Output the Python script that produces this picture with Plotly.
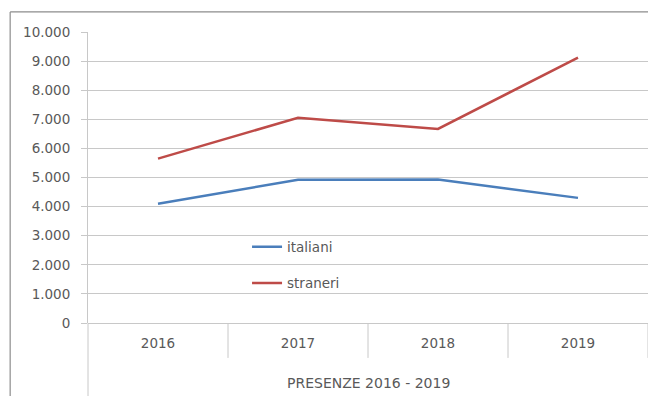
import plotly.graph_objects as go

# Presenze per anno, italiani e stranieri
anni = ["2016", "2017", "2018", "2019"]
italiani = [4100, 4920, 4930, 4300]
stranieri = [5650, 7050, 6670, 9120]
y_ticks = [0, 1000, 2000, 3000, 4000, 5000, 6000, 7000, 8000, 9000, 10000]
y_labels = ["0", "1.000", "2.000", "3.000", "4.000", "5.000",
            "6.000", "7.000", "8.000", "9.000", "10.000"]
titolo_asse = "PRESENZE 2016 - 2019"

FONT = "DejaVu Sans"
TXT = "#595959"
GRID = "#c8c8c8"

x_idx = list(range(len(anni)))

fig = go.Figure()
fig.add_trace(go.Scatter(
    x=x_idx, y=italiani, mode="lines", name="italiani", showlegend=True,
    line=dict(color="#4a7ebb", width=2.5), legend="legend",
))
fig.add_trace(go.Scatter(
    x=x_idx, y=stranieri, mode="lines", name="straneri", showlegend=True,
    line=dict(color="#be4b48", width=2.5), legend="legend2",
))

shapes = []
# separatori tra le categorie dell'asse x
for i in range(len(anni)):
    shapes.append(dict(type="line", xref="x", yref="paper",
                       x0=i + 0.5, x1=i + 0.5, y0=0, y1=-0.12,
                       line=dict(color=GRID, width=1)))
# prolungamento dell'asse y sotto le etichette
shapes.append(dict(type="line", xref="paper", yref="paper",
                   x0=0, x1=0, y0=0, y1=-0.26,
                   line=dict(color=GRID, width=1)))
# cornice del grafico (lati superiore e sinistro)
shapes.append(dict(type="line", xref="paper", yref="paper",
                   x0=-0.139, x1=1.0, y0=1.069, y1=1.069,
                   line=dict(color="#8c8c8c", width=1.2)))
shapes.append(dict(type="line", xref="paper", yref="paper",
                   x0=-0.139, x1=-0.139, y0=1.069, y1=-0.26,
                   line=dict(color="#8c8c8c", width=1.2)))

fig.update_layout(
    width=648, height=396,
    margin=dict(l=88, r=0, t=32, b=73),
    paper_bgcolor="white", plot_bgcolor="white",
    font=dict(family=FONT, size=13, color=TXT),
    showlegend=True,
    shapes=shapes,
    xaxis=dict(
        range=[-0.5, len(anni) - 0.5], tickmode="array",
        tickvals=x_idx, ticktext=anni, showgrid=False, zeroline=False,
        showline=False, ticks="", tickfont=dict(size=13.5, color=TXT),
        ticklabelstandoff=10,
    ),
    yaxis=dict(
        range=[0, 10000], tickmode="array", tickvals=y_ticks,
        ticktext=y_labels, showgrid=True, gridcolor=GRID, gridwidth=1,
        zeroline=True, zerolinecolor=GRID, zerolinewidth=1,
        showline=True, linecolor=GRID, linewidth=1,
        ticks="outside", ticklen=6, tickcolor=GRID,
        tickfont=dict(size=13.5, color=TXT), ticklabelstandoff=8,
    ),
    legend=dict(x=0.284, y=0.261, xanchor="left", yanchor="middle",
                bgcolor="rgba(0,0,0,0)", font=dict(size=13.5, color=TXT)),
    legend2=dict(x=0.284, y=0.137, xanchor="left", yanchor="middle",
                 bgcolor="rgba(0,0,0,0)", font=dict(size=13.5, color=TXT)),
    annotations=[dict(text=titolo_asse, xref="paper", yref="paper",
                      x=0.5, y=-0.206, xanchor="center", yanchor="middle",
                      showarrow=False, font=dict(size=14, color=TXT))],
)

fig.write_html("out.html")
